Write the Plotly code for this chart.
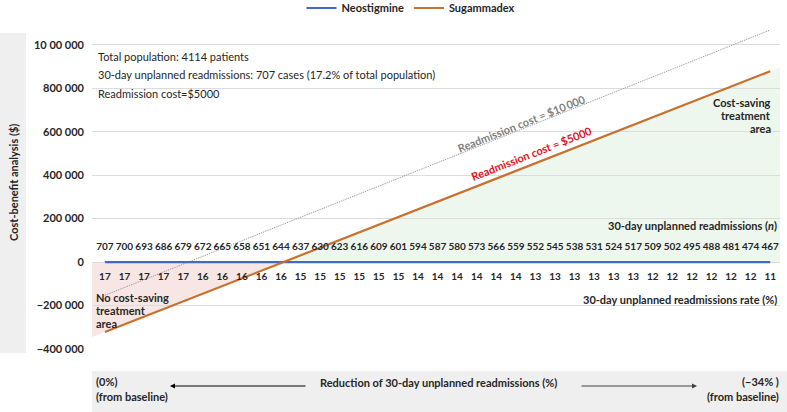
import plotly.graph_objects as go

# ---------------- data ----------------
readmissions_n = [707, 700, 693, 686, 679, 672, 665, 658, 651, 644, 637, 630, 623, 616, 609, 601, 594,
                  587, 580, 573, 566, 559, 552, 545, 538, 531, 524, 517, 509, 502, 495, 488, 481, 474, 467]
readmission_rate = [17, 17, 17, 17, 17, 16, 16, 16, 16, 16, 15, 15, 15, 15, 15, 15, 14, 14,
                    14, 14, 14, 14, 13, 13, 13, 13, 13, 13, 12, 12, 12, 12, 12, 12, 11]
neostigmine = [0] * 35
sugammadex = [-322000, -286700, -251400, -216100, -180800, -145500, -110200, -74900, -39600, -4300,
              30900, 66200, 101500, 136800, 172100, 207400, 242700, 278000, 313300, 348600, 383900,
              419200, 454500, 489800, 525100, 560400, 595700, 631000, 666300, 701600, 736900, 772200,
              807500, 842800, 878000]
cost_10000_line = [-153000, -117000, -81000, -45000, -9000, 27000, 62000, 98000, 134000, 170000,
                   206000, 242000, 278000, 314000, 350000, 386000, 421000, 457000, 493000, 529000,
                   565000, 601000, 637000, 673000, 709000, 745000, 781000, 817000, 852000, 888000,
                   924000, 960000, 996000, 1032000, 1068000]
ytick_vals = [1000000, 800000, 600000, 400000, 200000, 0, -200000, -400000]
ytick_text = ["10 00 000", "800 000", "600 000", "400 000", "200 000", "0", "\u2212200 000", "\u2212400 000"]

# ---------------- layout helpers ----------------
W, H = 787, 412
ML, MR, MT, MB = 92, 7, 23, 63
PW, PH = W - ML - MR, H - MT - MB
Y0, Y1 = -400000, 1100000
X0, X1 = -0.66, 34.5


def px(x):
    return (x - ML) / PW


def py(y):
    return (H - MB - y) / PH


def ydata(ypix):
    return (H - MB - ypix) / PH * (Y1 - Y0) + Y0


FONT = "Lato, 'Open Sans', sans-serif"
DARK = "#262626"
idx = list(range(len(readmissions_n)))

fig = go.Figure()

fig.add_trace(go.Scatter(x=idx, y=cost_10000_line, mode="lines", showlegend=False, hoverinfo="skip",
                         line=dict(color="#8c8c8c", width=1, dash="1px,1px")))
fig.add_trace(go.Scatter(x=idx, y=neostigmine, mode="lines", name="Neostigmine",
                         line=dict(color="#4468c8", width=2.2)))
fig.add_trace(go.Scatter(x=idx, y=sugammadex, mode="lines", name="Sugammadex",
                         line=dict(color="#c8702e", width=2.2)))

# number rows
fig.add_trace(go.Scatter(x=idx, y=[ydata(247)] * len(idx), mode="text", showlegend=False, hoverinfo="skip",
                         text=[str(v) for v in readmissions_n],
                         textfont=dict(family=FONT, size=10, color=DARK, weight="bold")))
fig.add_trace(go.Scatter(x=idx, y=[ydata(277)] * len(idx), mode="text", showlegend=False, hoverinfo="skip",
                         text=[str(v) for v in readmission_rate],
                         textfont=dict(family=FONT, size=10, color=DARK, weight="bold")))

# crossing point of sugammadex with 0
cross = None
for i in range(len(sugammadex) - 1):
    a, b = sugammadex[i], sugammadex[i + 1]
    if a <= 0 < b:
        cross = i + (-a) / (b - a)
        break
slope_l = sugammadex[1] - sugammadex[0]
left_val = sugammadex[0] + (X0 - 0) * slope_l
slope_r = sugammadex[-1] - sugammadex[-2]
right_val = sugammadex[-1] + (X1 - idx[-1]) * slope_r

shapes = [
    dict(type="path", xref="x", yref="y", layer="below", line=dict(width=0),
         fillcolor="rgba(240,200,195,0.45)",
         path=f"M {X0},0 L {X0},{left_val} L {cross},0 Z"),
    dict(type="path", xref="x", yref="y", layer="below", line=dict(width=0),
         fillcolor="rgba(215,238,215,0.45)",
         path=f"M {cross},0 L {X1},0 L {X1},{right_val} Z"),
    dict(type="rect", xref="paper", yref="paper", layer="below", line=dict(width=0),
         fillcolor="#efefef", x0=px(0), x1=px(26), y0=py(353), y1=py(33)),
    dict(type="rect", xref="paper", yref="paper", layer="below", line=dict(width=0),
         fillcolor="#efefef", x0=px(92), x1=px(787), y0=py(412), y1=py(371)),
]

ann = []


def txt(x, y, s, anchor="left", size=11, bold=True, color=DARK, angle=0):
    ann.append(dict(xref="paper", yref="paper", x=px(x), y=py(y), text=s, showarrow=False,
                    xanchor=anchor, yanchor="middle", textangle=angle,
                    font=dict(family=FONT, size=size, color=color, weight="bold" if bold else "normal")))


txt(96, 57, "Total population: 4114 patients", size=11, bold=False)
txt(96, 75, "30-day unplanned readmissions: 707 cases (17.2% of total population)", size=11, bold=False)
txt(96, 94, "Readmission cost=$5000", size=11, bold=False)

txt(773, 102, "Cost-saving", anchor="right")
txt(773, 115, "treatment", anchor="right")
txt(773, 128, "area", anchor="right")

txt(94, 297, "No cost-saving")
txt(94, 310, "treatment")
txt(94, 323, "area")

txt(779, 225, "30-day unplanned readmissions (<i>n</i>)", anchor="right")
txt(779, 299, "30-day unplanned readmissions rate (%)", anchor="right")

txt(521, 123, "Readmission cost = $10\u2009000", anchor="center", color="#808080", angle=-21.7)
txt(531, 153, "Readmission cost = $5000", anchor="center", color="#e0101b", angle=-21.4)

txt(13, 183, "Cost-benefit analysis ($)", anchor="center", angle=-90)

txt(94, 381, "(0%)")
txt(94, 396, "(from baseline)")
txt(438, 382, "Reduction of 30-day unplanned readmissions (%)", anchor="center")
txt(781, 381, "(\u221234% )", anchor="right")
txt(781, 396, "(from baseline)", anchor="right")

ann.append(dict(xref="paper", yref="paper", x=px(170), y=py(386), ax=137, ay=0, text="",
                showarrow=True, arrowhead=2, arrowsize=1, arrowwidth=1, arrowcolor="#000000"))
ann.append(dict(xref="paper", yref="paper", x=px(697), y=py(386), ax=-117, ay=0, text="",
                showarrow=True, arrowhead=2, arrowsize=1, arrowwidth=1, arrowcolor="#404040"))

fig.update_layout(
    width=W, height=H,
    margin=dict(l=ML, r=MR, t=MT, b=MB, pad=0, autoexpand=False),
    paper_bgcolor="white", plot_bgcolor="white",
    font=dict(family=FONT, color=DARK),
    showlegend=True,
    legend=dict(orientation="h", x=px(411), xanchor="center", y=py(8), yanchor="middle",
                bgcolor="rgba(0,0,0,0)", itemwidth=30,
                font=dict(family=FONT, size=11, color=DARK, weight="bold")),
    xaxis=dict(range=[X0, X1], visible=False, showgrid=False, zeroline=False),
    yaxis=dict(range=[Y0, Y1], tickvals=ytick_vals, ticktext=ytick_text, showgrid=True,
               gridcolor="#dcdcdc", gridwidth=1, zeroline=False, showline=False, ticks="",
               ticklabelstandoff=7,
               tickfont=dict(family=FONT, size=11, color=DARK, weight="bold")),
    shapes=shapes,
    annotations=ann,
)

fig.write_html("out.html", config={"displayModeBar": False},
               post_script="document.body.style.margin='0';document.body.style.overflow='hidden';")
